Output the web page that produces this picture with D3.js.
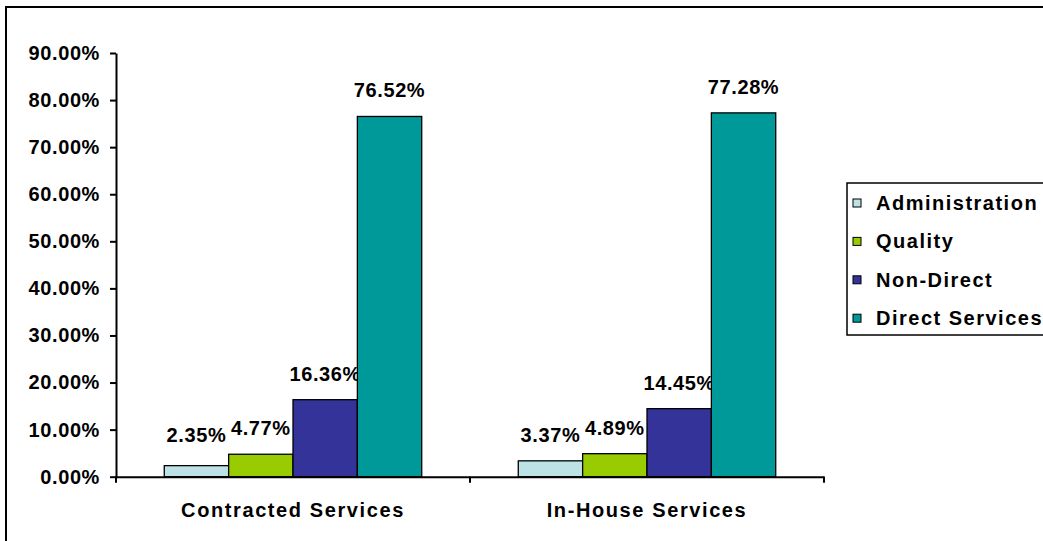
<!DOCTYPE html>
<html>
<head>
<meta charset="utf-8">
<script src="https://cdn.jsdelivr.net/npm/d3@7"></script>
<style>
  body { margin: 0; background: #fff; }
  text { font-family: "Liberation Sans", Arial, sans-serif; font-weight: bold; fill: #000; }
</style>
</head>
<body>
<div id="container"></div>
<script>
let categories = ['Contracted Services', 'In-House Services'];
let seriesNames = ['Administration', 'Quality', 'Non-Direct', 'Direct Services'];
let administration = [2.35, 3.37];
let quality = [4.77, 4.89];
let nonDirect = [16.36, 14.45];
let directServices = [76.52, 77.28];
let yTicks = [0, 10, 20, 30, 40, 50, 60, 70, 80, 90];
let colors = ['#bce2e6', '#99cc00', '#333399', '#009999'];

const width = 1043, height = 541;
const series = [administration, quality, nonDirect, directServices];

const svg = d3.select('#container').append('svg').attr('width', width).attr('height', height);

// outer chart frame (right/bottom edges fall outside the picture)
svg.append('rect')
    .attr('x', 6).attr('y', 7)
    .attr('width', width + 10).attr('height', height + 10)
    .attr('fill', 'none').attr('stroke', '#000').attr('stroke-width', 2);

const x0 = d3.scaleBand().domain(categories).range([116, 824]);
const x1 = d3.scaleBand().domain(seriesNames).range([0, x0.bandwidth()]).paddingInner(0).paddingOuter(0.75);
const y = d3.scaleLinear().domain([0, 90]).range([476.7, 53]);

// bars
let group = svg.selectAll('g.cat')
    .data(categories)
    .enter()
    .append('g')
    .attr('class', 'cat')
    .attr('transform', d => `translate(${x0(d)}, 0)`);

group.each(function (cat, ci) {
    let g = d3.select(this);
    seriesNames.forEach((s, si) => {
        let v = series[si][ci];
        g.append('rect')
            .attr('x', x1(s)).attr('y', y(v))
            .attr('width', x1.bandwidth()).attr('height', y(0) - y(v))
            .attr('fill', colors[si])
            .attr('stroke', '#000').attr('stroke-width', 1.3);
        g.append('text')
            .attr('x', x1(s) + x1.bandwidth() / 2)
            .attr('y', Math.min(y(v) - 19, y(0) - 35))
            .attr('text-anchor', 'middle')
            .style('font-size', '20px').style('letter-spacing', '0.6px')
            .text(v.toFixed(2) + '%');
    });
});

// y axis
let yAxis = svg.append('g')
    .attr('transform', 'translate(116, 0)')
    .call(d3.axisLeft(y).tickValues(yTicks).tickSizeInner(6).tickSizeOuter(0).tickPadding(10)
        .tickFormat(d => d.toFixed(2) + '%'));
yAxis.select('.domain').attr('stroke', '#000').attr('stroke-width', 2);
yAxis.selectAll('.tick line').attr('stroke', '#000').attr('stroke-width', 2);
yAxis.selectAll('.tick text')
    .style('font-size', '20px').style('letter-spacing', '0.6px')
    .style('font-family', '"Liberation Sans", Arial, sans-serif').style('font-weight', 'bold');

// x axis
let xAxis = svg.append('g')
    .attr('transform', `translate(0, ${y(0)})`)
    .call(d3.axisBottom(x0).tickSize(0).tickPadding(26));
xAxis.select('.domain').attr('stroke', '#000').attr('stroke-width', 2);
xAxis.selectAll('.tick text')
    .style('font-size', '20px').style('letter-spacing', '1.6px')
    .style('font-family', '"Liberation Sans", Arial, sans-serif').style('font-weight', 'bold');
xAxis.selectAll('line.sep')
    .data(categories.map(c => x0(c)).concat([x0.range()[1]]))
    .enter()
    .append('line')
    .attr('class', 'sep')
    .attr('x1', d => d).attr('x2', d => d)
    .attr('y1', 0).attr('y2', 6)
    .attr('stroke', '#000').attr('stroke-width', 2);

// legend
let legend = svg.append('g');
legend.append('rect')
    .attr('x', 847).attr('y', 183)
    .attr('width', 220).attr('height', 152)
    .attr('fill', '#fff').attr('stroke', '#000').attr('stroke-width', 1.5);
let item = legend.selectAll('g.item')
    .data(seriesNames)
    .enter()
    .append('g')
    .attr('class', 'item')
    .attr('transform', (d, i) => `translate(0, ${203 + i * 38.4})`);
item.append('rect')
    .attr('x', 853).attr('y', -4)
    .attr('width', 8).attr('height', 8)
    .attr('fill', (d, i) => colors[i])
    .attr('stroke', '#000').attr('stroke-width', 1);
item.append('text')
    .attr('x', 876).attr('y', 0).attr('dy', '0.35em')
    .style('font-size', '20px').style('letter-spacing', '1.5px')
    .text(d => d);
</script>
</body>
</html>
